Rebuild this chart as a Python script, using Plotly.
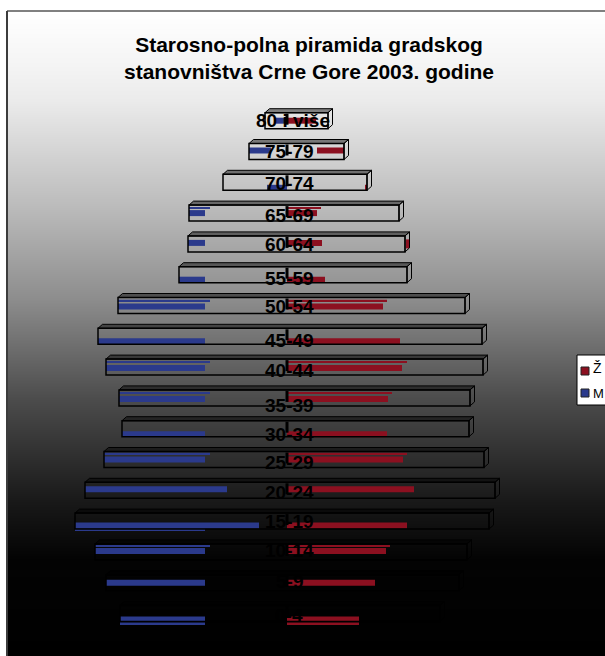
import numpy as np
import plotly.graph_objects as go

nan = float("nan")

# age groups, top row first
ages = ["80 i više", "75-79", "70-74", "65-69", "60-64", "55-59", "50-54", "45-49", "40-44",
        "35-39", "30-34", "25-29", "20-24", "15-19", "10-14", "5-9", "0-4"]

# outer size of each row (M left, Z right)
male_total = [-220, -380, -640, -980, -990, -1080, -1690, -1890, -1810,
              -1680, -1650, -1830, -2020, -2120, -1920, -1810, -1670]
female_total = [410, 570, 800, 1120, 1180, 1200, 1780, 1950, 1960,
                1830, 1820, 1970, 2080, 2020, 1800, 1720, 1530]

# coloured strips, as the renderer left them
male_from = [-120, -380, -200, -980, -990, -1080, -1690, -1890, -1810,
             -1680, -1650, -1830, -2020, -2120, -1920, -1810, -1670]
male_to = [0, -160, 0, -820, -820, -820, -820, -820, -820,
           -820, -820, -820, -600, -280, -820, -820, -820]
female_from = [0, 300, 780, 0, 0, 0, 0, 0, 0,
               0, 0, 0, 0, 0, 0, 0, 0]
female_to = [290, 570, 800, 300, 350, 380, 960, 1130, 1150,
             1010, 1000, 1160, 1270, 1200, 990, 880, 720]

# thin slivers of the strips that show on the box edge
male_edge_to = [nan, nan, nan, -770, nan, nan, -770, nan, -770,
                -770, nan, -770, nan, -820, -770, nan, -820]
female_edge_to = [nan, nan, nan, 340, nan, nan, 1000, nan, 1200,
                  1050, nan, 1200, nan, nan, 1030, nan, 720]

# the red chip left on the side of 60-64
chip_age = ["60-64"]
chip_from = [1190]
chip_to = [1220]

# px per row, px per x unit
ROW_PX = 30.8
X_PX = 0.1
W, H = 605, 656
ZERO_X, BOTTOM_ROW_Y = 287, 613.5
DX, DY = 4.5 / X_PX, 4 / ROW_PX

# vertical drift inside each box, px
strip_shift = [0, -1, 5.5, 0, -1, 5, 1, 5, 1, 1, 5.5, 0, -1, 4.5, -1, 0, 6]
edge_shift = [0, 0, 0, -5, 0, 0, -5, 0, -5, -5, 0, -6, 0, 8.5, -6, 0, 10]
label_shift = [0, 0, 1, 2, 1, 4, 1, 4, 3, 8, 6, 3, 2, 0, -1, -1, 2]
label_x = [60, 20, 20, 20, 20, 20, 20, 20, 20, 20, 20, 20, 20, 20, 20, 20, 20]

rows = np.arange(len(ages))[::-1]
strip_y = rows - np.array(strip_shift) / ROW_PX
edge_y = rows - np.array(edge_shift) / ROW_PX

x_range = [-ZERO_X / X_PX, (W - ZERO_X) / X_PX]
y_range = [(BOTTOM_ROW_Y - H) / ROW_PX, BOTTOM_ROW_Y / ROW_PX]

fig = go.Figure()

# background gradient, goes on the first subplot so it stays under everything
grad_y = [11, 60, 100, 200, 300, 400, 500, 560, 656]
grad_v = [255, 245, 235, 190, 140, 75, 25, 3, 0]
yy = np.arange(11, 657)
vals = np.interp(yy, grad_y, grad_v)
fig.add_trace(go.Heatmap(
    z=vals.reshape(-1, 1), x=[0], y=yy, xaxis="x", yaxis="y", zmin=0, zmax=255,
    colorscale=[[0, "#000000"], [1, "#ffffff"]], showscale=False, hoverinfo="skip"))

# top and side faces of the boxes
top_x, top_y, side_x, side_y = [], [], [], []
half = 8 / ROW_PX
for m, f, r in zip(male_total, female_total, rows):
    top_x += [m, m + DX, f + DX, f, m, None]
    top_y += [r + half, r + half + DY, r + half + DY, r + half, r + half, None]
    side_x += [f, f + DX, f + DX, f, f, None]
    side_y += [r + half, r + half + DY, r - half + DY, r - half, r + half, None]
fig.add_trace(go.Scatter(x=top_x, y=top_y, mode="lines", fill="toself", fillcolor="rgba(0,0,0,0.45)",
                         xaxis="x2", yaxis="y2", line=dict(color="#000000", width=1),
                         showlegend=False, hoverinfo="skip"))
fig.add_trace(go.Scatter(x=side_x, y=side_y, mode="lines",
                         xaxis="x2", yaxis="y2", line=dict(color="#000000", width=1),
                         showlegend=False, hoverinfo="skip"))

# strips
fig.add_trace(go.Bar(y=strip_y, x=np.array(female_to) - np.array(female_from), base=female_from, orientation="h",
                     width=6 / ROW_PX, name="Ž", xaxis="x2", yaxis="y2", showlegend=False,
                     marker=dict(color="#8c1020", line=dict(width=0)), hoverinfo="skip"))
fig.add_trace(go.Bar(y=strip_y, x=np.array(male_to) - np.array(male_from), base=male_from, orientation="h",
                     width=6 / ROW_PX, name="M", xaxis="x2", yaxis="y2", showlegend=False,
                     marker=dict(color="#2b3a8c", line=dict(width=0)), hoverinfo="skip"))
fig.add_trace(go.Bar(y=edge_y, x=np.array(female_edge_to), base=0, orientation="h",
                     width=1.6 / ROW_PX, xaxis="x2", yaxis="y2", showlegend=False,
                     marker=dict(color="#8c1020", line=dict(width=0)), hoverinfo="skip"))
fig.add_trace(go.Bar(y=edge_y, x=np.array(male_edge_to) - np.array(male_total), base=male_total, orientation="h",
                     width=1.6 / ROW_PX, xaxis="x2", yaxis="y2", showlegend=False,
                     marker=dict(color="#2b3a8c", line=dict(width=0)), hoverinfo="skip"))
chip_rows = [rows[ages.index(a)] for a in chip_age]
fig.add_trace(go.Bar(y=chip_rows, x=np.array(chip_to) - np.array(chip_from), base=chip_from, orientation="h",
                     width=9 / ROW_PX, xaxis="x2", yaxis="y2", showlegend=False,
                     marker=dict(color="#8c1020", line=dict(width=0)), hoverinfo="skip"))

# front of the boxes
fig.add_trace(go.Bar(y=rows, x=np.array(female_total) - np.array(male_total), base=male_total, orientation="h",
                     width=16 / ROW_PX, showlegend=False, hoverinfo="skip", xaxis="x2", yaxis="y2",
                     marker=dict(color="rgba(0,0,0,0)", line=dict(color="#000000", width=1.5))))

# stubs of the axis in each row
stub_x, stub_y = [], []
for r in rows:
    stub_x += [0, 0, None]
    stub_y += [r + 7 / ROW_PX, r - 4 / ROW_PX, None]
fig.add_trace(go.Scatter(x=stub_x, y=stub_y, mode="lines", line=dict(color="#000000", width=3),
                         xaxis="x2", yaxis="y2", showlegend=False, hoverinfo="skip"))

annotations = [dict(x=lx, y=r, text="<b>%s</b>" % a, showarrow=False, yshift=-s, xref="x2", yref="y2",
                    font=dict(family="Liberation Sans", size=19, color="#000000"))
               for a, r, s, lx in zip(ages, rows, label_shift, label_x)]

# legend is hand drawn: the box runs off the right edge and plotly's own won't fit the text
annotations += [
    dict(x=592 / W, y=1 - 368 / H, text="Ž", xref="paper", yref="paper", xanchor="left", showarrow=False,
         borderpad=0, font=dict(family="Liberation Sans", size=14, color="#000000")),
    dict(x=592 / W, y=1 - 393 / H, text="M", xref="paper", yref="paper", xanchor="left", showarrow=False,
         borderpad=0, font=dict(family="Liberation Sans", size=13, color="#000000")),
]

shapes = [
    # frame: grey along the top, darker down the left
    dict(type="line", xref="paper", yref="paper", x0=7 / W, x1=1, y0=1 - 11 / H, y1=1 - 11 / H,
         line=dict(color="#808080", width=2), layer="above"),
    dict(type="line", xref="paper", yref="paper", x0=7 / W, x1=7 / W, y0=0, y1=1 - 11 / H,
         line=dict(color="#3c3c3c", width=2), layer="above"),
    dict(type="rect", xref="paper", yref="paper", x0=577 / W, x1=1.02, y0=1 - 405 / H, y1=1 - 355 / H,
         line=dict(color="#000000", width=1), fillcolor="#ffffff", layer="above"),
    dict(type="rect", xref="paper", yref="paper", x0=581 / W, x1=589 / W, y0=1 - 375 / H, y1=1 - 367 / H,
         line=dict(color="#222222", width=1), fillcolor="#8c1020", layer="above"),
    dict(type="rect", xref="paper", yref="paper", x0=581 / W, x1=589 / W, y0=1 - 397 / H, y1=1 - 389 / H,
         line=dict(color="#222222", width=1), fillcolor="#2b3a8c", layer="above"),
]

fig.update_layout(
    width=W, height=H, autosize=False,
    margin=dict(l=0, r=0, t=0, b=0, autoexpand=False),
    paper_bgcolor="#ffffff", plot_bgcolor="rgba(0,0,0,0)",
    barmode="overlay", showlegend=False,
    title=dict(text="<b>Starosno-polna piramida gradskog<br>stanovništva Crne Gore 2003. godine</b>",
               x=309 / W, xanchor="center", y=1 - 52 / H, yanchor="middle",
               font=dict(family="Liberation Sans", size=21, color="#000000")),
    xaxis=dict(visible=False, domain=[7 / W, 1], anchor="y", range=[-0.5, 0.5]),
    yaxis=dict(visible=False, domain=[0, 1 - 11 / H], anchor="x", range=[656, 11]),
    xaxis2=dict(range=x_range, visible=False, domain=[0, 1], anchor="y2"),
    yaxis2=dict(range=y_range, visible=False, domain=[0, 1], anchor="x2"),
    annotations=annotations,
    shapes=shapes,
)

fig.write_html("out.html", config=dict(displayModeBar=False), post_script="document.body.style.margin='0';")
